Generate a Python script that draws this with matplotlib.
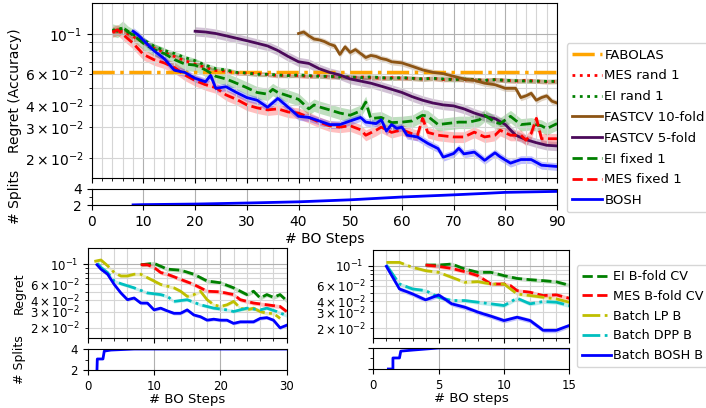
import matplotlib
matplotlib.use("Agg")
import matplotlib.pyplot as plt
from matplotlib.ticker import AutoMinorLocator, FixedLocator

# ---------------- top panel: regret vs BO steps ----------------
fabolas_x = [0, 90]
fabolas_y = [0.0612, 0.0612]

mes_rand_x = [4, 6, 8, 10, 12, 14, 16, 18, 20, 22, 24, 26, 28, 30, 32, 34, 36, 38, 40,
              42, 44, 46, 48, 50, 52, 54, 56, 58, 60, 62, 64, 66, 68, 70, 72, 74, 76, 78,
              80, 82, 84, 86, 88, 90]
mes_rand_y = [0.103, 0.104, 0.097, 0.090, 0.084, 0.079, 0.075, 0.071, 0.068, 0.065, 0.0625,
              0.062, 0.0605, 0.0605, 0.060, 0.0595, 0.0585, 0.059, 0.0585, 0.058, 0.0585,
              0.0575, 0.058, 0.057, 0.0575, 0.057, 0.0565, 0.057, 0.0565, 0.0565, 0.056,
              0.0565, 0.0555, 0.056, 0.0555, 0.0555, 0.055, 0.0555, 0.055, 0.0545, 0.055,
              0.0545, 0.054, 0.0543]

ei_rand_x = mes_rand_x
ei_rand_y = [0.105, 0.108, 0.100, 0.093, 0.086, 0.081, 0.078, 0.074, 0.071, 0.067, 0.064,
             0.063, 0.061, 0.0605, 0.0595, 0.0595, 0.059, 0.0585, 0.059, 0.0585, 0.058,
             0.058, 0.0575, 0.0575, 0.057, 0.0575, 0.057, 0.0565, 0.057, 0.0565, 0.056,
             0.0565, 0.056, 0.0555, 0.056, 0.0555, 0.055, 0.0555, 0.055, 0.0548, 0.0545,
             0.0545, 0.0543, 0.0543]

fastcv10_x = [40, 41, 42, 43, 44, 45, 46, 47, 48, 49, 50, 51, 52, 53, 54, 55, 56, 57, 58,
              60, 62, 64, 66, 68, 70, 72, 74, 76, 78, 80, 82, 83, 84, 85, 86, 87, 88, 89, 90]
fastcv10_y = [0.101, 0.103, 0.098, 0.094, 0.093, 0.091, 0.088, 0.086, 0.077, 0.085, 0.079,
              0.082, 0.078, 0.074, 0.076, 0.075, 0.073, 0.072, 0.070, 0.069, 0.066, 0.063,
              0.061, 0.060, 0.058, 0.056, 0.055, 0.053, 0.052, 0.0496, 0.0496, 0.044, 0.045,
              0.0465, 0.0425, 0.044, 0.045, 0.042, 0.041]

fastcv5_x = [20, 22, 24, 26, 28, 30, 32, 34, 36, 38, 40, 42, 44, 46, 48, 50, 52, 54, 56, 58,
             60, 62, 64, 66, 68, 70, 72, 74, 76, 78, 80, 82, 84, 86, 88, 90]
fastcv5_y = [0.104, 0.103, 0.101, 0.098, 0.095, 0.092, 0.089, 0.086, 0.081, 0.075, 0.070,
             0.0685, 0.064, 0.061, 0.059, 0.056, 0.0545, 0.053, 0.051, 0.049, 0.047, 0.0445,
             0.0425, 0.041, 0.040, 0.0395, 0.038, 0.036, 0.0345, 0.0335, 0.031, 0.027,
             0.0255, 0.0245, 0.0237, 0.0235]

ei_fixed_x = [4, 5, 6, 7, 8, 10, 12, 14, 16, 18, 20, 22, 24, 26, 28, 30, 32, 34, 35, 36, 38,
              40, 42, 43, 44, 46, 48, 50, 52, 53, 54, 56, 58, 60, 62, 64, 65, 67, 69, 71, 73,
              75, 76, 78, 79, 81, 83, 85, 87, 88, 90]
ei_fixed_y = [0.106, 0.104, 0.110, 0.103, 0.099, 0.089, 0.082, 0.078, 0.072, 0.068, 0.067,
              0.063, 0.058, 0.056, 0.053, 0.050, 0.047, 0.046, 0.049, 0.047, 0.045, 0.043,
              0.038, 0.040, 0.039, 0.0375, 0.036, 0.035, 0.037, 0.0415, 0.0335, 0.034,
              0.0318, 0.032, 0.0325, 0.035, 0.0345, 0.031, 0.0315, 0.032, 0.032, 0.033,
              0.035, 0.032, 0.0314, 0.0345, 0.031, 0.0314, 0.0305, 0.0294, 0.0314]

mes_fixed_x = [4, 5, 6, 8, 10, 12, 14, 16, 18, 20, 22, 24, 26, 28, 30, 32, 34, 36, 38, 40,
               42, 44, 46, 48, 50, 52, 53, 55, 56, 58, 60, 62, 63, 64, 65, 67, 70, 72, 74,
               76, 78, 79, 81, 83, 84, 85, 86, 87, 88, 90]
mes_fixed_y = [0.103, 0.106, 0.100, 0.089, 0.077, 0.072, 0.069, 0.065, 0.059, 0.055, 0.052,
               0.050, 0.0455, 0.043, 0.040, 0.0385, 0.0375, 0.038, 0.0365, 0.036, 0.034,
               0.032, 0.0305, 0.030, 0.0305, 0.029, 0.027, 0.0288, 0.030, 0.028, 0.029,
               0.0275, 0.027, 0.0336, 0.028, 0.027, 0.0264, 0.0264, 0.0281, 0.0264, 0.027,
               0.0288, 0.027, 0.027, 0.0253, 0.0276, 0.0336, 0.0258, 0.0258, 0.0258]

bosh_x = [8, 9, 10, 12, 14, 16, 18, 20, 22, 23, 24, 26, 28, 30, 32, 34, 36, 38, 40, 42, 44,
          46, 48, 50, 52, 53, 55, 56, 57, 58, 59, 60, 61, 63, 65, 67, 68, 70, 71, 72, 74,
          76, 78, 79, 81, 83, 85, 87, 90]
bosh_y = [0.104, 0.099, 0.0925, 0.081, 0.073, 0.0627, 0.061, 0.0565, 0.054, 0.0587, 0.0496,
          0.0506, 0.047, 0.044, 0.0425, 0.0388, 0.0435, 0.0388, 0.0345, 0.034, 0.0325,
          0.031, 0.031, 0.0325, 0.034, 0.032, 0.0314, 0.033, 0.0285, 0.031, 0.0295, 0.030,
          0.027, 0.0264, 0.0243, 0.0227, 0.0203, 0.0213, 0.0228, 0.0212, 0.0217, 0.0195,
          0.0215, 0.0204, 0.0188, 0.0197, 0.0197, 0.0183, 0.018]

bosh_splits_x = [8, 10, 20, 30, 40, 50, 60, 70, 76, 80, 90]
bosh_splits_y = [2.02, 2.05, 2.12, 2.25, 2.4, 2.65, 3.0, 3.27, 3.45, 3.58, 3.7]

# ---------------- bottom-left panel ----------------
bl_ei_x = [8, 10, 12, 14, 16, 18, 20, 22, 23, 24, 25, 26, 27, 28, 29, 30]
bl_ei_y = [0.0983, 0.1017, 0.088, 0.0857, 0.0774, 0.0652, 0.0624, 0.0549, 0.0504, 0.0463,
           0.0504, 0.0425, 0.0463, 0.0432, 0.0463, 0.0397]
bl_mes_x = [8, 9, 10, 11, 12, 14, 16, 18, 20, 22, 23, 25, 27, 29, 30]
bl_mes_y = [0.0983, 0.0983, 0.0918, 0.0808, 0.0774, 0.068, 0.0598, 0.0504, 0.0496, 0.0463,
            0.0407, 0.0374, 0.0358, 0.0343, 0.0302]
bl_lp_x = list(range(1, 30))
bl_lp_y = [0.107, 0.1108, 0.0958, 0.0807, 0.0741, 0.0741, 0.0774, 0.0774, 0.071, 0.0652,
           0.0598, 0.0573, 0.0549, 0.0504, 0.0443, 0.0463, 0.0504, 0.0407, 0.0358, 0.0343,
           0.0358, 0.039, 0.0329, 0.0315, 0.0329, 0.0302, 0.0289, 0.0289, 0.0254]
bl_dpp_x = [1.5, 2, 3, 4, 5, 7, 9, 11, 12, 13, 15, 17, 19, 21, 22, 24, 26, 27, 28.5, 30]
bl_dpp_y = [0.1017, 0.092, 0.0807, 0.0652, 0.061, 0.0549, 0.0483, 0.0463, 0.0443, 0.039,
            0.0407, 0.0358, 0.0329, 0.0315, 0.0302, 0.0329, 0.0315, 0.0329, 0.0302, 0.0272]
bl_bosh_x = [1.4, 2, 3, 4, 5, 6, 7, 8, 9, 10, 11, 12, 13, 14, 15, 16, 17, 18, 19, 20, 21,
             22, 23, 24, 25, 26, 27, 28, 29, 30]
bl_bosh_y = [0.0983, 0.088, 0.0774, 0.0598, 0.0483, 0.0407, 0.0425, 0.0374, 0.0374, 0.0315,
             0.0329, 0.0307, 0.0289, 0.0289, 0.0315, 0.0277, 0.0265, 0.0243, 0.0249, 0.0243,
             0.0243, 0.0224, 0.0233, 0.0233, 0.0233, 0.0254, 0.0259, 0.0243, 0.020, 0.0214]
bl_splits_x = [1.4, 1.45, 2.3, 2.5, 3.5, 7, 30]
bl_splits_y = [2, 3.05, 3.05, 3.8, 3.9, 4, 4]

# ---------------- bottom-right panel ----------------
br_ei_x = [4, 5, 6, 7, 8, 9, 10, 11, 12, 13, 14, 15]
br_ei_y = [0.1017, 0.1017, 0.1044, 0.0918, 0.0843, 0.0843, 0.0774, 0.072, 0.0697, 0.068,
           0.066, 0.0604]
br_mes_x = [4, 5, 6, 7, 8, 9, 10, 10.5, 11, 12, 13, 14, 15]
br_mes_y = [0.1017, 0.0983, 0.0932, 0.0857, 0.0774, 0.0624, 0.0624, 0.0598, 0.0526, 0.0504,
            0.0463, 0.0472, 0.0432]
br_lp_x = list(range(1, 16))
br_lp_y = [0.1089, 0.1089, 0.0958, 0.088, 0.0843, 0.0741, 0.0652, 0.0663, 0.0624, 0.0624,
           0.0483, 0.0463, 0.0443, 0.0425, 0.039]
br_dpp_x = list(range(1, 16))
br_dpp_y = [0.1017, 0.0624, 0.0549, 0.0526, 0.0443, 0.0407, 0.0407, 0.039, 0.0374, 0.0358,
            0.0432, 0.0374, 0.0397, 0.039, 0.0358]
br_bosh_x = list(range(1, 16))
br_bosh_y = [0.0983, 0.0549, 0.0483, 0.0414, 0.047, 0.0374, 0.0343, 0.0302, 0.0272, 0.0243,
             0.0265, 0.0243, 0.0189, 0.0189, 0.0214]
br_splits_x = [1.15, 1.5, 1.5, 2.0, 2.1, 3, 4, 5, 15]
br_splits_y = [2, 2, 3.05, 3.05, 3.7, 3.8, 3.9, 4, 4]

BROWN = "#8c5414"
PURPLE = "#4b0a5a"
YLIM = (0.0155, 0.15)


def curve(ax, x, y, color, ls, label=None, spread=0.06, lw=2.0):
    lo = [v * (1 - spread) for v in y]
    hi = [v * (1 + spread) for v in y]
    if spread > 0:
        ax.fill_between(x, lo, hi, color=color, alpha=0.25, lw=0)
    return ax.plot(x, y, color=color, ls=ls, lw=lw, label=label)[0]


def style_main(ax, xlim, tick_size):
    ax.set_yscale("log")
    ax.set_ylim(*YLIM)
    ax.set_xlim(*xlim)
    ax.xaxis.set_minor_locator(AutoMinorLocator())
    ax.grid(which="major", color="#b0b0b0", lw=0.8)
    ax.grid(which="minor", color="#d5d5d5", lw=0.8)
    ax.tick_params(labelbottom=False, labelsize=tick_size)
    ax.tick_params(which="minor", labelsize=tick_size)


def style_splits(ax, xlim, tick_size, show_labels=True):
    ax.set_xlim(*xlim)
    ax.set_ylim(2, 4)
    ax.set_yticks([2, 4])
    ax.yaxis.set_minor_locator(FixedLocator([3]))
    ax.grid(which="major", axis="x", color="#b0b0b0", lw=0.8)
    ax.tick_params(labelsize=tick_size, labelleft=show_labels)


fig = plt.figure(figsize=(7.06, 4.08), dpi=100)

# ---- top ----
ax_top = fig.add_axes([0.1299, 0.5637, 0.6591, 0.4289])
ax_top_s = fig.add_axes([0.1299, 0.4975, 0.6591, 0.0393])

handles = [
    curve(ax_top, fabolas_x, fabolas_y, "orange", "-.", "FABOLAS", spread=0.0, lw=2.5),
    curve(ax_top, mes_rand_x, mes_rand_y, "red", ":", "MES rand 1", spread=0.03),
    curve(ax_top, ei_rand_x, ei_rand_y, "green", ":", "EI rand 1", spread=0.03),
    curve(ax_top, fastcv10_x, fastcv10_y, BROWN, "-", "FASTCV 10-fold", spread=0.04),
    curve(ax_top, fastcv5_x, fastcv5_y, PURPLE, "-", "FASTCV 5-fold", spread=0.06),
    curve(ax_top, ei_fixed_x, ei_fixed_y, "green", "--", "EI fixed 1", spread=0.08),
    curve(ax_top, mes_fixed_x, mes_fixed_y, "red", "--", "MES fixed 1", spread=0.07),
    curve(ax_top, bosh_x, bosh_y, "blue", "-", "BOSH", spread=0.05),
]
style_main(ax_top, (0, 90), 10)
ax_top.set_ylabel("Regret (Accuracy)", fontsize=10)
ax_top.yaxis.set_label_coords(-0.15, 0.5)

curve(ax_top_s, bosh_splits_x, bosh_splits_y, "blue", "-", spread=0.015)
style_splits(ax_top_s, (0, 90), 10)
ax_top_s.set_ylabel("# Splits", fontsize=10)
ax_top_s.yaxis.set_label_coords(-0.15, 0.5)
ax_top_s.set_xlabel("# BO Steps", fontsize=10, labelpad=2)

fig.legend(handles=handles, loc="upper left", bbox_to_anchor=(0.8027, 0.8938),
           borderaxespad=0, fontsize=9.5, handlelength=2.3, handletextpad=0.15,
           labelspacing=0.59)

# ---- bottom-left ----
ax_bl = fig.add_axes([0.1242, 0.1716, 0.2819, 0.2206])
ax_bl_s = fig.add_axes([0.1242, 0.0931, 0.2819, 0.0515])

curve(ax_bl, bl_ei_x, bl_ei_y, "green", "--", spread=0.05)
curve(ax_bl, bl_mes_x, bl_mes_y, "red", "--", spread=0.05)
curve(ax_bl, bl_lp_x, bl_lp_y, "y", "-.", spread=0.04)
curve(ax_bl, bl_dpp_x, bl_dpp_y, "c", "-.", spread=0.04)
curve(ax_bl, bl_bosh_x, bl_bosh_y, "blue", "-", spread=0.04)
style_main(ax_bl, (0, 30), 8.5)
ax_bl.set_ylabel("Regret", fontsize=9)
ax_bl.yaxis.set_label_coords(-0.31, 0.5)

curve(ax_bl_s, bl_splits_x, bl_splits_y, "blue", "-", spread=0.0)
style_splits(ax_bl_s, (0, 30), 8.5)
ax_bl_s.set_ylabel("# Splits", fontsize=9)
ax_bl_s.yaxis.set_label_coords(-0.31, 0.5)
ax_bl_s.set_xlabel("# BO Steps", fontsize=9.5, labelpad=0)

# ---- bottom-right ----
ax_br = fig.add_axes([0.5288, 0.1716, 0.2776, 0.2157])
ax_br_s = fig.add_axes([0.5288, 0.0956, 0.2776, 0.0515])

h2 = [
    curve(ax_br, br_ei_x, br_ei_y, "green", "--", "EI B-fold CV", spread=0.05),
    curve(ax_br, br_mes_x, br_mes_y, "red", "--", "MES B-fold CV", spread=0.05),
    curve(ax_br, br_lp_x, br_lp_y, "y", "-.", "Batch LP B", spread=0.04),
    curve(ax_br, br_dpp_x, br_dpp_y, "c", "-.", "Batch DPP B", spread=0.05),
    curve(ax_br, br_bosh_x, br_bosh_y, "blue", "-", "Batch BOSH B", spread=0.06),
]
style_main(ax_br, (0, 15), 8.5)

curve(ax_br_s, br_splits_x, br_splits_y, "blue", "-", spread=0.0)
style_splits(ax_br_s, (0, 15), 8.5, show_labels=False)
ax_br_s.set_xlabel("# BO steps", fontsize=9.5, labelpad=0)

fig.legend(handles=h2, loc="upper left", bbox_to_anchor=(0.8169, 0.3505),
           borderaxespad=0, fontsize=9.2, handlelength=2.3, handletextpad=0.15,
           labelspacing=0.53)

fig.savefig("out.png", dpi=100)
